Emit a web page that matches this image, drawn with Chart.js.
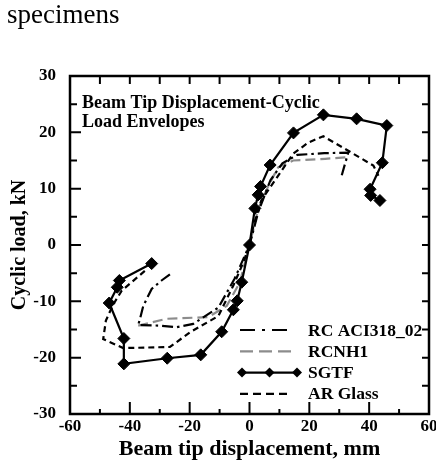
<!DOCTYPE html>
<html>
<head>
<meta charset="utf-8">
<script src="https://cdn.jsdelivr.net/npm/chart.js@4.4.1/dist/chart.umd.min.js"></script>
<style>
  html, body { margin: 0; padding: 0; background: #fff; }
  #wrap { position: relative; width: 436px; height: 465px; }
  #caption { position: absolute; left: 7px; top: 1px; font: 27px/27px "Liberation Serif", "Times New Roman", serif; color: #000; }
  canvas { position: absolute; left: 0; top: 0; }
</style>
</head>
<body>
<div id="wrap">
  <canvas id="envChart" width="436" height="465"></canvas>
  <div id="caption">specimens</div>
</div>
<script>
// envelope data (x = tip displacement mm, y = load kN)
const rcAciX = [-26.6, -29.4, -32.7, -35.5, -36.6, -37.2, -30.5, -24.3, -18.8, -10.4, -5, 0, 3, 7, 11, 16, 25, 33, 30.8];
const rcAciY = [-5.2, -6.3, -7.8, -10.8, -13.1, -14.2, -14.3, -14.6, -14, -11.1, -6, 0, 6, 11.5, 14.5, 16, 16.3, 16.4, 12.3];

const rcnhX = [-37.2, -27.7, -13.8, -7.6, -3.2, 0, 2.9, 6.3, 9.6, 14.6, 25.3, 33];
const rcnhY = [-14.3, -13.1, -12.8, -10.8, -6.6, 0, 6.4, 10.5, 13.8, 15, 15.3, 15.6];

const sgtfX = [-32.7, -43.5, -44.2, -46.9, -42, -42, -27.5, -16.3, -9.3, -5.4, -4.1, -2.6, 0, 1.8, 2.9, 3.7, 6.9, 14.7, 24.7, 35.8, 45.9, 44.4, 40.3, 40.5, 43.6];
const sgtfY = [-3.3, -6.3, -7.5, -10.3, -16.6, -21.1, -20.1, -19.5, -15.4, -11.5, -9.9, -6.6, 0, 6.5, 8.9, 10.4, 14.2, 19.9, 23.1, 22.4, 21.2, 14.6, 9.9, 8.8, 7.9];

const arGlassX = [-35, -42.7, -45.5, -48, -48.9, -42.2, -26.6, -19.9, -10.4, -5.4, -2, 0, 1.3, 4, 9.6, 14.6, 19.7, 24.7, 34.7, 41.4, 43.1];
const arGlassY = [-4.6, -8.1, -10.5, -13.4, -16.7, -18.3, -18.1, -15.5, -12.6, -7.2, -3, 0, 3.4, 8, 12.3, 16.2, 18.2, 19.3, 16.2, 14.1, 12.3];

const seriesNames = ['RC ACI318_02', 'RCNH1', 'SGTF', 'AR Glass'];
const xTickValues = [-60, -40, -20, 0, 20, 40, 60];
const yTickValues = [-30, -20, -10, 0, 10, 20, 30];
const noteLines = ['Beam Tip Displacement-Cyclic', 'Load Envelopes'];

const serif = '"Liberation Serif", "Times New Roman", serif';

function pts(xs, ys) {
    return xs.map((x, i) => ({ x: x, y: ys[i] }));
}

// inward ticks on all four sides plus the heavy frame
const framePlugin = {
    id: 'frame',
    afterDraw(chart) {
        const { ctx, chartArea: a, scales: { x, y } } = chart;
        ctx.save();
        ctx.strokeStyle = '#000';
        ctx.lineWidth = 2;
        ctx.beginPath();
        for (let v = -60; v <= 60; v += 10) {
            const px = x.getPixelForValue(v);
            const len = v % 20 === 0 ? 12 : 5;
            ctx.moveTo(px, a.bottom); ctx.lineTo(px, a.bottom - len);
            ctx.moveTo(px, a.top); ctx.lineTo(px, a.top + 8);
        }
        for (let v = -30; v <= 30; v += 5) {
            const py = y.getPixelForValue(v);
            const len = v % 10 === 0 ? 11 : 7;
            ctx.moveTo(a.left, py); ctx.lineTo(a.left + len, py);
            ctx.moveTo(a.right, py); ctx.lineTo(a.right - 7, py);
        }
        ctx.stroke();
        ctx.lineWidth = 2.5;
        ctx.strokeRect(a.left, a.top, a.width, a.height);
        ctx.restore();
    }
};

// note in the upper left of the plot
const notePlugin = {
    id: 'note',
    afterDraw(chart) {
        const { ctx, chartArea: a } = chart;
        ctx.save();
        ctx.fillStyle = '#000';
        ctx.font = 'bold 18px ' + serif;
        ctx.textBaseline = 'alphabetic';
        noteLines.forEach((t, i) => ctx.fillText(t, a.left + 12, a.top + 32 + i * 19));
        ctx.restore();
    }
};

// legend inside the plot, lower right
const legendDash = {
    'RC ACI318_02': [15, 7, 3, 7],
    'RCNH1': [13, 6],
    'SGTF': [],
    'AR Glass': [8, 5]
};
const legendPlugin = {
    id: 'insideLegend',
    afterDraw(chart) {
        const { ctx } = chart;
        ctx.save();
        ctx.font = 'bold 17.5px ' + serif;
        ctx.textBaseline = 'middle';
        seriesNames.forEach((name, i) => {
            const ds = chart.data.datasets.find(d => d.label === name);
            const yy = 330 + i * 21.3;
            ctx.strokeStyle = ds.borderColor;
            ctx.lineWidth = 2.2;
            ctx.setLineDash(legendDash[name]);
            ctx.beginPath();
            const x0 = name === 'SGTF' ? 242 : 240;
            const x1 = name === 'SGTF' ? 297 : 292;
            ctx.moveTo(x0, yy); ctx.lineTo(x1, yy);
            ctx.stroke();
            ctx.setLineDash([]);
            if (name === 'SGTF') {
                ctx.fillStyle = '#000';
                [x0, (x0 + x1) / 2, x1].forEach(cx => {
                    ctx.beginPath();
                    ctx.moveTo(cx, yy - 5); ctx.lineTo(cx + 5, yy);
                    ctx.lineTo(cx, yy + 5); ctx.lineTo(cx - 5, yy);
                    ctx.closePath();
                    ctx.fill();
                });
            }
            ctx.fillStyle = '#000';
            ctx.fillText(name, 308, yy + 1);
        });
        ctx.restore();
    }
};

const ctx = document.getElementById('envChart').getContext('2d');
new Chart(ctx, {
    type: 'scatter',
    data: {
        datasets: [
            {
                label: 'RC ACI318_02',
                data: pts(rcAciX, rcAciY),
                showLine: true,
                borderColor: '#000',
                borderWidth: 2.2,
                borderDash: [11, 4, 2.5, 4],
                pointRadius: 0,
                tension: 0,
                order: 2
            },
            {
                label: 'RCNH1',
                data: pts(rcnhX, rcnhY),
                showLine: true,
                borderColor: '#8c8c8c',
                borderWidth: 2.2,
                borderDash: [10, 5],
                pointRadius: 0,
                tension: 0,
                order: 3
            },
            {
                label: 'SGTF',
                data: pts(sgtfX, sgtfY),
                showLine: true,
                borderColor: '#000',
                backgroundColor: '#000',
                borderWidth: 2.2,
                pointStyle: 'rectRot',
                pointRadius: 6,
                pointBorderWidth: 1,
                tension: 0,
                order: 0
            },
            {
                label: 'AR Glass',
                data: pts(arGlassX, arGlassY),
                showLine: true,
                borderColor: '#000',
                borderWidth: 2.2,
                borderDash: [6, 4],
                pointRadius: 0,
                tension: 0,
                order: 1
            }
        ]
    },
    options: {
        responsive: false,
        animation: false,
        layout: { autoPadding: false, padding: { left: 0, right: 7, top: 76, bottom: 0 } },
        plugins: { legend: { display: false }, tooltip: { enabled: false } },
        scales: {
            x: {
                type: 'linear',
                min: -60,
                max: 60,
                afterBuildTicks: s => { s.ticks = xTickValues.map(v => ({ value: v })); },
                afterFit: s => { s.height = 51; },
                ticks: { color: '#000', font: { family: serif, size: 17, weight: 'bold' }, padding: -6, maxRotation: 0 },
                grid: { display: false },
                border: { display: false },
                title: {
                    display: true,
                    text: 'Beam tip displacement, mm',
                    color: '#000',
                    font: { family: serif, size: 22, weight: 'bold' },
                    padding: { top: 0, bottom: 2 }
                }
            },
            y: {
                type: 'linear',
                min: -30,
                max: 30,
                afterBuildTicks: s => { s.ticks = yTickValues.map(v => ({ value: v })); },
                afterFit: s => { s.width = 70; },
                ticks: { color: '#000', font: { family: serif, size: 17, weight: 'bold' }, padding: 6 },
                grid: { display: false },
                border: { display: false },
                title: {
                    display: true,
                    text: 'Cyclic load, kN',
                    color: '#000',
                    font: { family: serif, size: 20, weight: 'bold' },
                    padding: { top: 8, bottom: 0 }
                }
            }
        }
    },
    plugins: [framePlugin, notePlugin, legendPlugin]
});
</script>
</body>
</html>
